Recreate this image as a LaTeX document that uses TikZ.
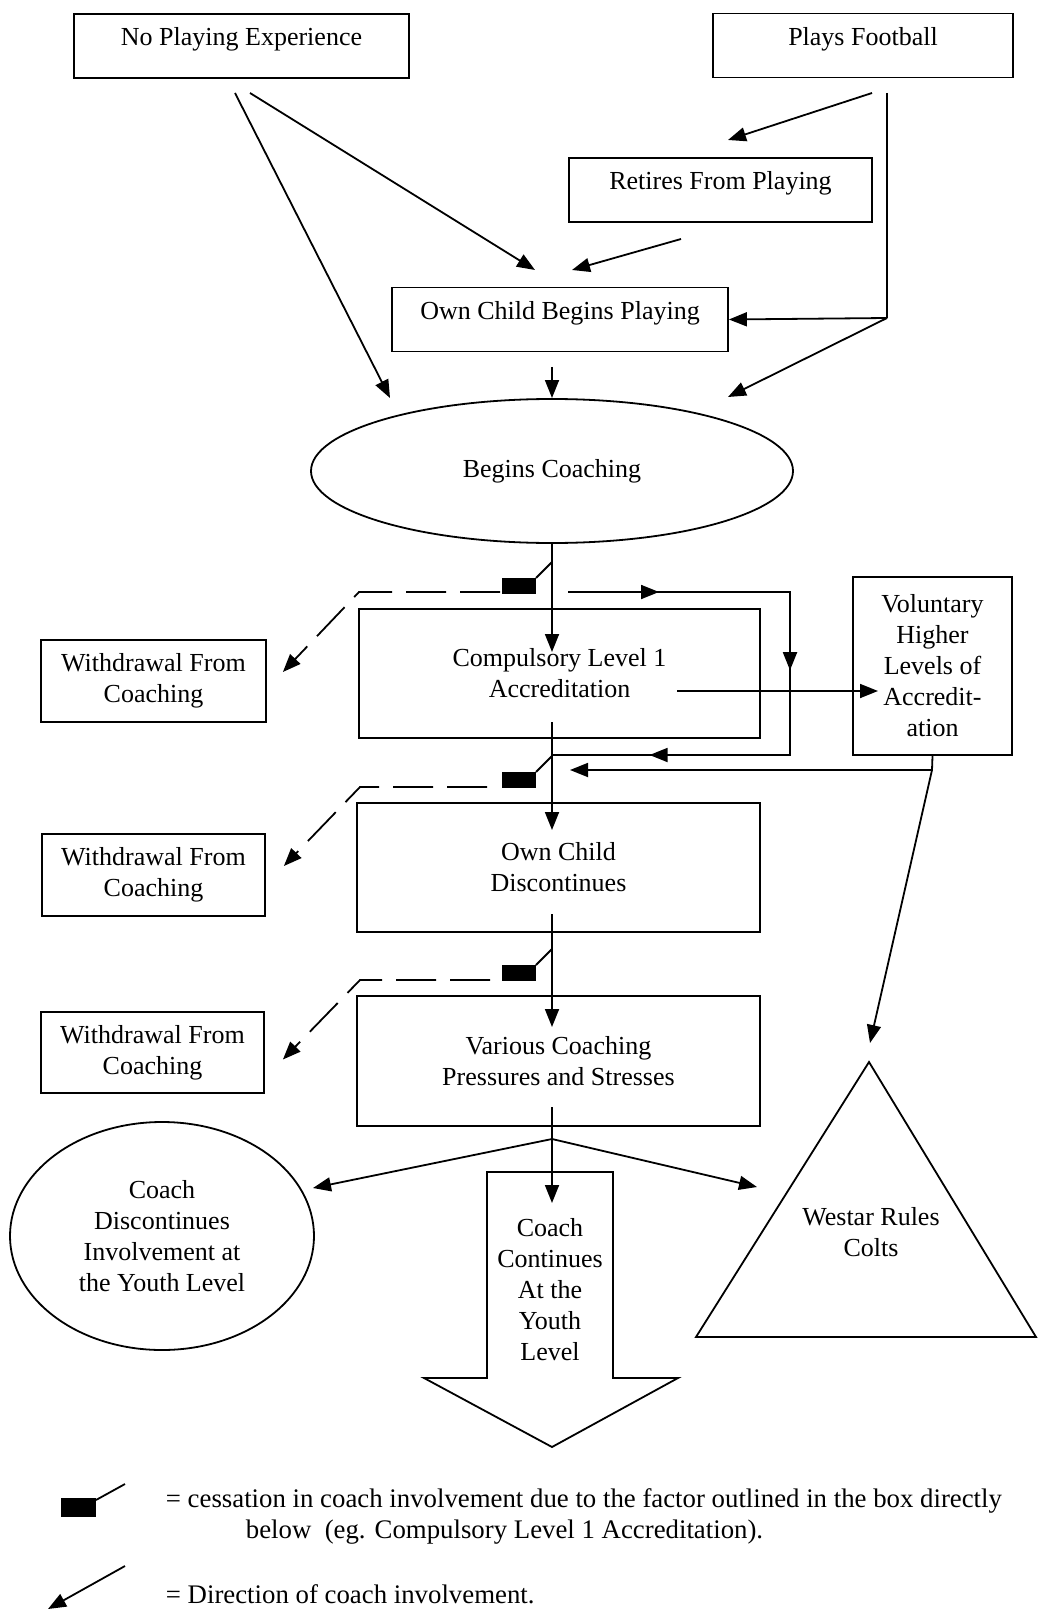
\documentclass[tikz,border=0pt]{standalone}
\usepackage{fontspec}
\setmainfont{Liberation Serif}
\usetikzlibrary{positioning, calc, arrows.meta, shapes.geometric}

\begin{document}
\begin{tikzpicture}[
    x=0.5pt, y=-0.5pt, % one unit is one pixel of the scan, y runs down
    line width=0.9pt,
    every node/.style={font=\fontsize{13}{15.5}\selectfont, inner sep=0pt},
    arr/.style={-{Triangle[length=9pt,width=7pt]}},
    box/.style={draw, align=center},
    topbox/.style={draw, text height=16pt, text depth=16pt},
    oval/.style={draw, ellipse, align=center},
    quit/.style={dash pattern=on 20pt off 7pt},
    keytext/.style={anchor=west, font=\fontsize{13.4}{15.5}\selectfont}
]
    \useasboundingbox (0,0) rectangle (1038,1610);

    % 1. Boxes and ovals
    \node[topbox, minimum width=167.5pt] (noexp) at (241.5,46) {No Playing Experience};
    \node[topbox, minimum width=150pt] (plays) at (863,45.5) {Plays Football};
    \node[topbox, minimum width=151.5pt] (retire) at (720.5,190) {Retires From Playing};
    \node[topbox, minimum width=168pt] (ownbeg) at (560,319.5) {Own Child Begins Playing};
    \node[oval, minimum width=241pt, minimum height=72pt] (begin) at (552,471) {Begins Coaching};

    \node[box, minimum width=200.5pt, minimum height=64.5pt] (level) at (559.5,673.5) {Compulsory Level 1\\Accreditation};
    \node[box, minimum width=79.5pt, minimum height=89pt] (higher) at (932.5,666) {Voluntary\\Higher\\Levels of\\Accredit-\\ation};
    \node[box, minimum width=201.5pt, minimum height=64.5pt] (owndisc) at (558.5,867.5) {Own Child\\Discontinues};
    \node[box, minimum width=201.5pt, minimum height=65pt] (stress) at (558.5,1061) {Various Coaching\\Pressures and Stresses};

    \node[box, minimum width=112.5pt, minimum height=41pt] (quit1) at (153.5,681) {Withdrawal From\\Coaching};
    \node[box, minimum width=111.5pt, minimum height=41pt] (quit2) at (153.5,875) {Withdrawal From\\Coaching};
    \node[box, minimum width=111.5pt, minimum height=40.5pt] (quit3) at (152.5,1052.5) {Withdrawal From\\Coaching};

    \node[oval, minimum width=152pt, minimum height=114pt] (stopyouth) at (162,1236) {Coach\\Discontinues\\Involvement at\\the Youth Level};

    % block arrow and triangle
    \draw (487,1172) -- (613,1172) -- (613,1378) -- (678,1378) -- (552,1447)
        -- (424,1378) -- (487,1378) -- cycle;
    \node[align=center] (goon) at (550,1290) {Coach\\Continues\\At the\\Youth\\Level};
    \draw (869,1062) -- (1036,1337) -- (696,1337) -- cycle;
    \node[align=center] (colts) at (871,1232) {Westar Rules\\Colts};

    % 2. Free ends of the connectors
    \coordinate (ne1) at (235,93);
    \coordinate (ne2) at (250,93);
    \coordinate (pf1) at (872,93);
    \coordinate (pf2) at (887,93);
    \coordinate (pfk) at (887,318);
    \coordinate (rt1) at (681,239);
    \coordinate (ob1) at (552,367);
    \coordinate (toret) at (728,140);
    \coordinate (toob1) at (535,270);
    \coordinate (toob2) at (572,270);
    \coordinate (tobc1) at (390,398);
    \coordinate (tobc2) at (552,398);
    \coordinate (tobc3) at (728,397);

    \coordinate (tolevel) at (552,652);
    \coordinate (lvout) at (552,722);
    \coordinate (toowndisc) at (552,830);
    \coordinate (odout) at (552,914);
    \coordinate (tostress) at (552,1027);
    \coordinate (stout) at (552,1107);
    \coordinate (split) at (552,1139);
    \coordinate (togoon) at (552,1203);
    \coordinate (tostop) at (313,1188);
    \coordinate (tocolts) at (757,1187);

    \coordinate (lp1) at (568,592);
    \coordinate (lp2) at (790,592);
    \coordinate (lp3) at (790,755);
    \coordinate (lp4) at (552,755);
    \coordinate (lvtxt) at (677,691);
    \coordinate (tohigher) at (878,691);
    \coordinate (vk) at (932,770);
    \coordinate (tomain) at (570,770);
    \coordinate (toapex) at (870,1043);

    % 3. Arrows at the top
    \draw[arr] (ne1) -- (tobc1);
    \draw[arr] (ne2) -- (toob1);
    \draw[arr] (pf1) -- (toret);
    \draw (pf2) -- (pfk);
    \draw[arr] (pfk) -- (ownbeg.east);
    \draw[arr] (pfk) -- (tobc3);
    \draw[arr] (rt1) -- (toob2);
    \draw[arr] (ob1) -- (tobc2);

    % 4. Main line down the middle
    \draw[arr] (begin.south) -- (tolevel);
    \draw[arr] (lvout) -- (toowndisc);
    \draw[arr] (odout) -- (tostress);
    \draw[arr] (stout) -- (togoon);
    \draw[arr] (split) -- (tostop);
    \draw[arr] (split) -- (tocolts);

    % loop round level 1 and the higher levels
    \draw (lp1) -- (lp2) -- (lp3) -- (lp4);
    \draw[arr] (lp1) -- ($(lp1)!0.41!(lp2)$);
    \draw[arr] (lp2) -- ($(lp2)!0.48!(lp3)$);
    \draw[arr] (lp3) -- ($(lp3)!0.59!(lp4)$);
    \draw[arr] (lvtxt) -- (tohigher);
    \draw (higher.south) -- (vk);
    \draw[arr] (vk) -- (tomain);
    \draw[arr] (vk) -- (toapex);

    % 5. Cessation marks and withdrawals
    \foreach \y in {578, 772, 965} {
        \fill (502,\y) rectangle ++(34,16);
        \draw (536,\y) -- ++(16,-16);
    }
    \draw[quit, arr] (500,592) -- (359,592) -- ([xshift=8pt,yshift=4.5pt]quit1.east);
    \draw[quit, arr] (487,787) -- (360,787) -- ([xshift=9pt,yshift=4.5pt]quit2.east);
    \draw[quit, arr] (490,980) -- (360,980) -- ([xshift=9pt,yshift=-3.5pt]quit3.east);

    % 6. Key
    \fill (61,1498) rectangle (96,1517);
    \draw (96,1500) -- (125,1484);
    \node[keytext, align=left] (keystop) at (165,1516)
        {= cessation in coach involvement due to the factor outlined in the box directly\\
         \hspace*{40pt}below~ (eg. Compulsory Level 1 Accreditation).};
    \coordinate (keya) at (125,1566);
    \coordinate (keyb) at (48,1609);
    \draw[arr] (keya) -- (keyb);
    \node[keytext] (keyarrow) at (165,1594) {= Direction of coach involvement.};
\end{tikzpicture}
\end{document}
